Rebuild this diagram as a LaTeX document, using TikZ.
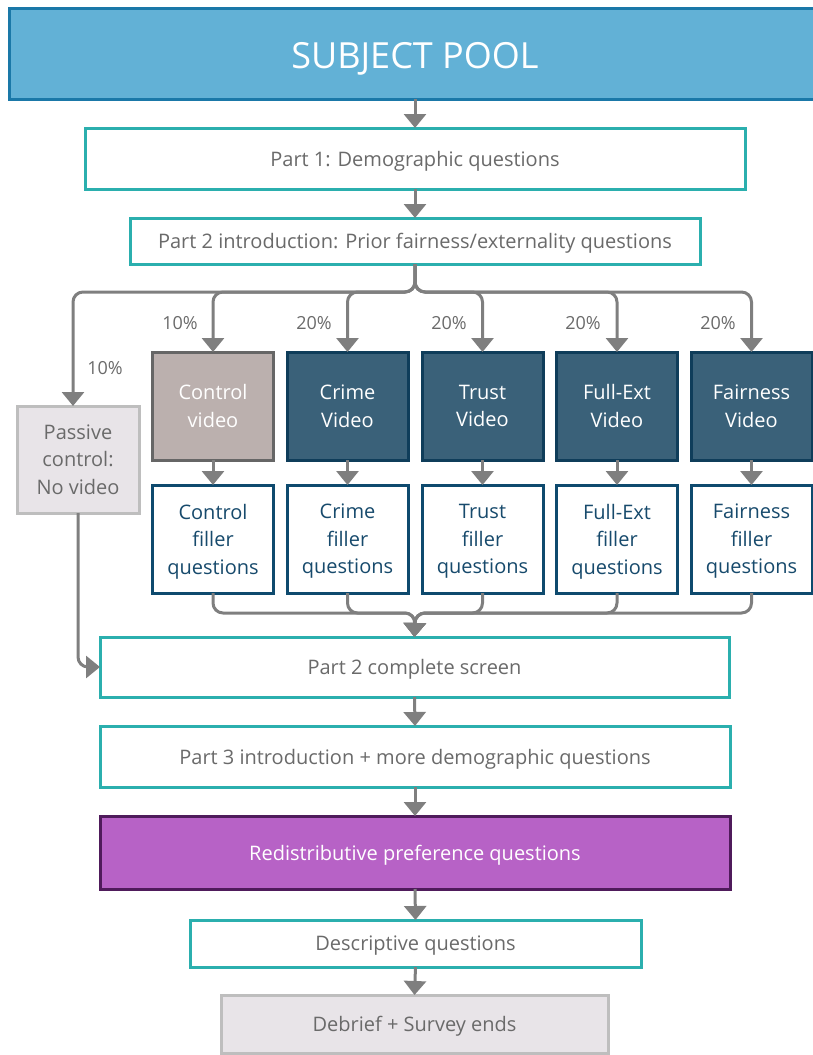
\documentclass[tikz,border=0pt]{standalone}
\usepackage{fontspec}
\setmainfont{Open Sans}
\usetikzlibrary{arrows.meta}
\definecolor{poolfill}{HTML}{62B1D6}
\definecolor{poolborder}{HTML}{1A78A8}
\definecolor{tealb}{HTML}{2BAFAE}
\definecolor{txtgray}{HTML}{6A6A6A}
\definecolor{vidfill}{HTML}{3A6179}
\definecolor{vidborder}{HTML}{0F3D5A}
\definecolor{fillborder}{HTML}{0E4A6E}
\definecolor{filltext}{HTML}{174A6C}
\definecolor{ctrlfill}{HTML}{BBB0AE}
\definecolor{ctrlborder}{HTML}{666666}
\definecolor{passfill}{HTML}{E8E4E8}
\definecolor{passborder}{HTML}{BEBEBE}
\definecolor{purpfill}{HTML}{B762C6}
\definecolor{purpborder}{HTML}{4F1B5B}
\definecolor{arrgray}{HTML}{7F7F7F}
\begin{document}
\begin{tikzpicture}[x=1pt,y=-1pt,
  box/.style={draw, line width=3pt, inner sep=0pt, outer sep=0pt, align=center, text depth=0pt,
    font=\fontsize{20}{27.5}\selectfont},
  part/.style={box, draw=tealb, fill=white, text=txtgray},
  vid/.style={box, draw=vidborder, fill=vidfill, text=white, minimum width=121pt, minimum height=108pt},
  filler/.style={box, draw=fillborder, fill=white, text=filltext, minimum width=121pt, minimum height=108pt},
  graybox/.style={box, draw=passborder, fill=passfill, text=txtgray},
  conn/.style={draw=arrgray, line width=3pt, -{Triangle[width=22pt,length=14pt]}, rounded corners=10pt},
  pct/.style={text=txtgray, inner sep=0pt, font=\fontsize{18}{20}\selectfont}]
\useasboundingbox (0,0) rectangle (812,1055);

\node[box, draw=poolborder, fill=poolfill, text=white, minimum width=812pt, minimum height=91pt,
  text height=29pt, font=\fontsize{36}{40}\selectfont] (sp) at (415,53.5) {SUBJECT POOL};
\node[part, minimum width=660pt, minimum height=61pt] (p1) at (415,158.5) {Part 1: Demographic questions};
\node[part, minimum width=570pt, minimum height=46pt] (p2) at (415,241) {Part 2 introduction: Prior fairness/externality questions};

\node[graybox, minimum width=122pt, minimum height=107pt] (pc) at (78,459.5) {Passive\\control:\\No video};
\node[vid, draw=ctrlborder, fill=ctrlfill] (cv) at (213,406) {Control\\video};
\node[vid] (crv) at (347.5,406) {Crime\\Video};
\node[vid] (tv) at (482.5,406) {Trust\\Video};
\node[vid] (fv) at (617,406) {Full-Ext\\Video};
\node[vid] (fav) at (751.5,406) {Fairness\\Video};

\node[filler] (cf) at (213,539) {Control\\filler\\questions};
\node[filler] (crf) at (347.5,539) {Crime\\filler\\questions};
\node[filler] (tf) at (482.5,539) {Trust\\filler\\questions};
\node[filler] (ff) at (617,539) {Full-Ext\\filler\\questions};
\node[filler] (faf) at (751.5,539) {Fairness\\filler\\questions};

\node[part, minimum width=629pt, minimum height=60pt] (p2c) at (414.5,667) {Part 2 complete screen};
\node[part, minimum width=630pt, minimum height=61pt] (p3) at (415,756.5) {Part 3 introduction + more demographic questions};
\node[box, draw=purpborder, fill=purpfill, text=white, minimum width=630pt, minimum height=73pt] (red) at (415,852.5) {Redistributive preference questions};
\node[part, minimum width=451pt, minimum height=47pt] (desc) at (415.5,943.5) {Descriptive questions};
\node[graybox, minimum width=387pt, minimum height=58pt] (deb) at (414.5,1024) {Debrief + Survey ends};

\node[pct] (l0) at (105,368) {10\%};
\node[pct] (l1) at (180,323) {10\%};
\node[pct] (l2) at (314,323) {20\%};
\node[pct] (l3) at (449,323) {20\%};
\node[pct] (l4) at (583,323) {20\%};
\node[pct] (l5) at (718,323) {20\%};

\coordinate (br) at (415,292);
\coordinate (mg) at (415,613);

\draw[conn] (sp.south) -- (p1.north);
\draw[conn] (p1.south) -- (p2.north);
\draw[conn] (p2.south) |- ([xshift=-5pt]pc.north |- br) -- ([xshift=-5pt]pc.north);
\foreach \n in {cv,crv,tv,fv,fav}
  \draw[conn] (p2.south) |- (\n.north |- br) -- (\n.north);
\draw[conn] (cv.south) -- (cf.north);
\draw[conn] (crv.south) -- (crf.north);
\draw[conn] (tv.south) -- (tf.north);
\draw[conn] (fv.south) -- (ff.north);
\draw[conn] (fav.south) -- (faf.north);
\foreach \n in {cf,crf,tf,ff,faf}
  \draw[conn] (\n.south) |- (mg) -- (p2c.north);
\draw[conn] (pc.south) |- (p2c.west);
\draw[conn] (p2c.south) -- (p3.north);
\draw[conn] (p3.south) -- (red.north);
\draw[conn] (red.south) -- (desc.north);
\draw[conn] (desc.south) -- (deb.north);
\end{tikzpicture}
\end{document}
